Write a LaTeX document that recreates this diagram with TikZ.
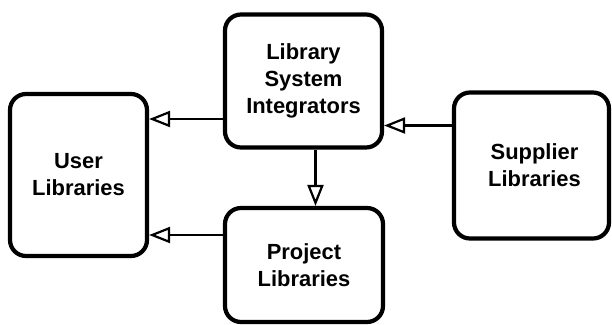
\documentclass[tikz,border=0pt]{standalone}
\usepackage{fontspec}
\setmainfont{Liberation Sans}
\usetikzlibrary{arrows.meta,calc}
\begin{document}
\begin{tikzpicture}[x=1bp,y=-1bp,
  box/.style={draw, line width=4.2bp, rounded corners=16bp, align=center,
    font=\bfseries\fontsize{22}{27}\selectfont, inner sep=0pt},
  arr/.style={line width=2.2bp, -{Triangle[open, length=21bp, width=16bp, line width=2.2bp]}}]
  \useasboundingbox (0,0) rectangle (612,324);
  % the four library boxes
  \node[box, minimum width=137bp, minimum height=162bp] (user) at (78.5,175) {User\\Libraries};
  \node[box, minimum width=157bp, minimum height=133bp] (lsi) at (303.5,81) {Library\\System\\Integrators};
  \node[box, minimum width=158bp, minimum height=114bp] (proj) at (304,265) {Project\\Libraries};
  \node[box, minimum width=155bp, minimum height=146bp] (supp) at (531.5,165.5) {\hspace*{6bp}Supplier\\\hspace*{6bp}Libraries};
  % connectors
  \coordinate (a1) at ($(lsi.west)+(0,38)$);
  \draw[arr] (a1) -- (a1 -| user.east);
  \coordinate (a2) at ($(proj.west)+(0,-30)$);
  \draw[arr] (a2) -- (a2 -| user.east);
  \coordinate (a3) at ($(supp.west)+(0,-40)$);
  \draw[arr] (a3) -- (a3 -| lsi.east);
  \coordinate (a4) at ($(lsi.south)+(12,0)$);
  \draw[arr] (a4) -- (a4 |- proj.north);
\end{tikzpicture}
\end{document}
